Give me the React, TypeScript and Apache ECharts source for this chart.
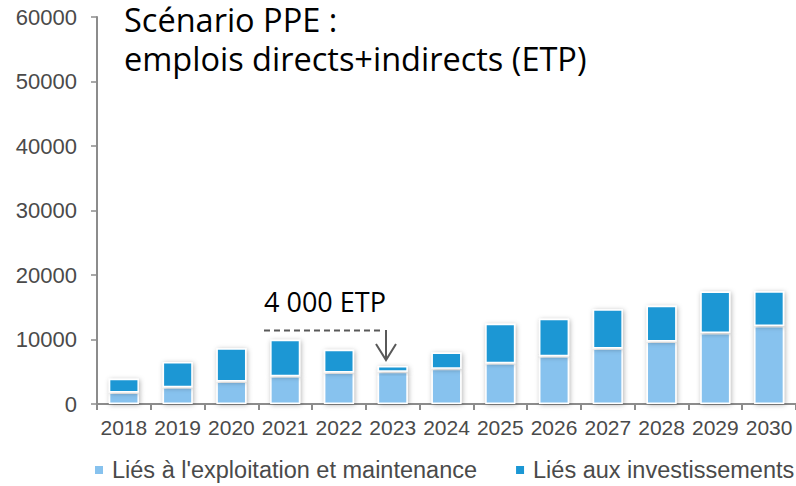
import React, { useEffect, useRef } from "react";
import * as echarts from "echarts";

const years = ["2018", "2019", "2020", "2021", "2022", "2023", "2024", "2025", "2026", "2027", "2028", "2029", "2030"];
const exploitation = [1800, 2600, 3500, 4300, 4900, 5000, 5450, 6300, 7400, 8600, 9700, 11000, 12100];
const investissements = [2100, 3900, 5150, 5650, 3500, 900, 2550, 6150, 5800, 6100, 5550, 6450, 5400];
const seriesNames = ["Liés à l'exploitation et maintenance", "Liés aux investissements"];
const titleLines = ["Scénario PPE :", "emplois directs+indirects (ETP)"];
const annotationText = "4 000 ETP";

export default function App() {
  const ref = useRef<HTMLDivElement>(null);
  useEffect(() => {
    if (!ref.current) return;
    const chart = echarts.init(ref.current, null, { renderer: "svg" });
    const axisColor = "#8c8c8c";
    const textColor = "#4a4a4a";
    const font = "'Liberation Sans', Arial, sans-serif";
    const barStyle = (color: string) => ({
      color,
      borderColor: "#ffffff",
      borderWidth: 1.5,
      shadowBlur: 5,
      shadowColor: "rgba(0,0,0,0.3)",
      shadowOffsetX: 1,
      shadowOffsetY: 1,
    });
    chart.setOption({
      animation: false,
      backgroundColor: "#ffffff",
      grid: { left: 97, right: 0, top: 17, bottom: 82, containLabel: false },
      legend: {
        top: 458,
        left: 93,
        width: 703,
        padding: 0,
        itemWidth: 10,
        itemHeight: 10,
        itemGap: 37,
        icon: "rect",
        textStyle: { fontFamily: font, fontSize: 23.5, color: textColor, padding: [0, 0, 0, 3] },
        data: seriesNames,
      },
      xAxis: {
        type: "category",
        data: years,
        axisLine: { lineStyle: { color: axisColor, width: 2 } },
        axisTick: { show: true, length: 6, lineStyle: { color: axisColor, width: 2 } },
        axisLabel: { fontFamily: font, fontSize: 21, color: textColor, margin: 13, interval: 0 },
      },
      yAxis: {
        type: "value",
        min: 0,
        max: 60000,
        interval: 10000,
        splitLine: { show: false },
        axisLine: { show: true, lineStyle: { color: axisColor, width: 2 } },
        axisTick: { show: true, length: 6, lineStyle: { color: axisColor, width: 1.5 } },
        axisLabel: {
          fontFamily: font,
          fontSize: 22,
          color: textColor,
          margin: 20,
          formatter: (v: number) => String(v),
        },
      },
      series: [
        {
          name: seriesNames[0],
          type: "bar",
          stack: "total",
          barWidth: "56%",
          data: exploitation,
          itemStyle: barStyle("#87c2ee"),
        },
        {
          name: seriesNames[1],
          type: "bar",
          stack: "total",
          barWidth: "56%",
          data: investissements,
          itemStyle: barStyle("#1b97d4"),
        },
      ],
      graphic: [
        {
          type: "text",
          x: 124,
          y: 0,
          style: {
            text: titleLines.join("\n"),
            font: "32.5px 'Open Sans', 'Noto Sans', sans-serif",
            lineHeight: 39,
            verticalAlign: "top",
            fill: "#000000",
          },
        },
        {
          type: "text",
          x: 264,
          y: 288,
          style: {
            text: annotationText,
            font: "27px 'Open Sans', 'Noto Sans', sans-serif",
            verticalAlign: "top",
            fill: "#000000",
          },
        },
        {
          type: "line",
          shape: { x1: 264, y1: 330.5, x2: 381, y2: 330.5 },
          style: { stroke: "#595959", lineWidth: 2, lineDash: [6, 4] },
        },
        {
          type: "line",
          shape: { x1: 386, y1: 330, x2: 386, y2: 359 },
          style: { stroke: "#595959", lineWidth: 2 },
        },
        {
          type: "polyline",
          shape: { points: [[376, 344], [386, 360], [396, 344]] },
          style: { stroke: "#595959", lineWidth: 2, fill: "none" },
        },
      ],
    });
    return () => chart.dispose();
  }, []);
  return (
    <div
      ref={ref}
      style={{ position: "fixed", left: 0, top: 0, width: 796, height: 486 }}
    />
  );
}
